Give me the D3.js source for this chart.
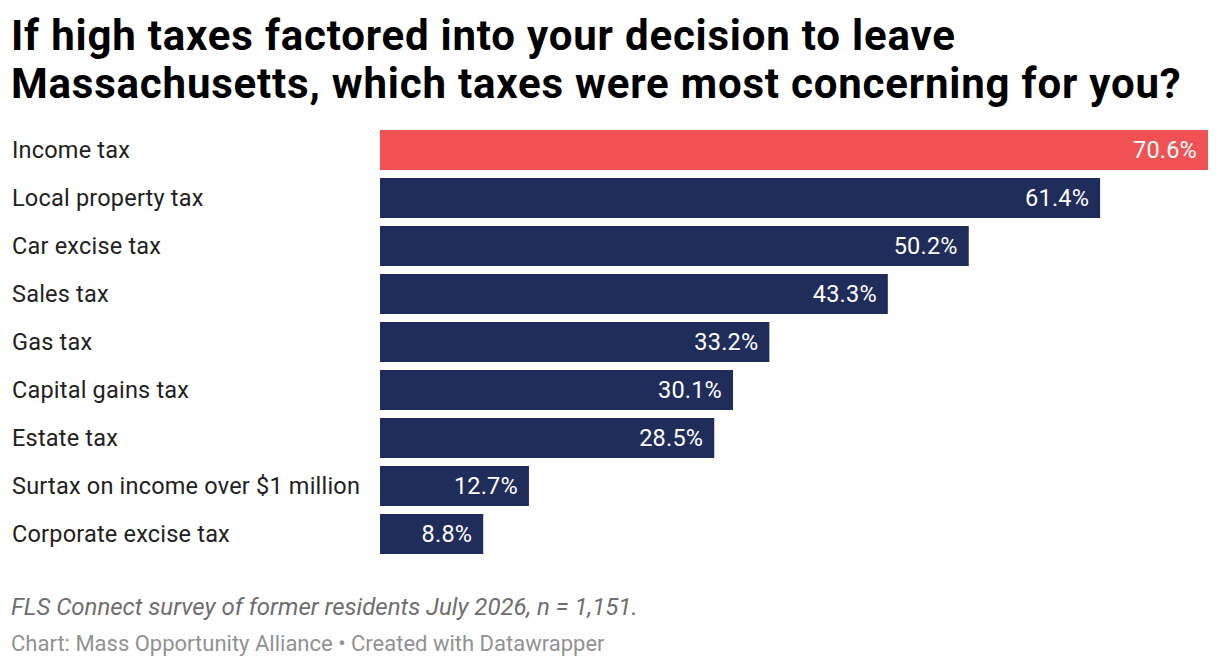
<!DOCTYPE html>
<html>
<head>
<meta charset="utf-8">
<script src="https://cdn.jsdelivr.net/npm/d3@7"></script>
<style>
  body { margin: 0; background: #fff; }
  svg text { font-family: Roboto, "Noto Sans", sans-serif; }
</style>
</head>
<body>
<div class="chart"></div>
<script>

const categories = [
    "Income tax",
    "Local property tax",
    "Car excise tax",
    "Sales tax",
    "Gas tax",
    "Capital gains tax",
    "Estate tax",
    "Surtax on income over $1 million",
    "Corporate excise tax"
];
const values = [70.6, 61.4, 50.2, 43.3, 33.2, 30.1, 28.5, 12.7, 8.8];
const titleLines = [
    "If high taxes factored into your decision to leave",
    "Massachusetts, which taxes were most concerning for you?"
];
const note = "FLS Connect survey of former residents July 2026, n = 1,151.";
const credit = "Chart: Mass Opportunity Alliance \u2022 Created with Datawrapper";

const width = 1220;
const height = 668;
const barLeft = 380;
const barRight = 1208;

const svg = d3.select(".chart")
    .append("svg")
    .attr("width", width)
    .attr("height", height);

// title
svg.append("g")
    .selectAll("text")
    .data(titleLines)
    .enter()
    .append("text")
        .attr("x", 11)
        .attr("y", (d, i) => 50 + i * 48)
        .attr("font-size", 42)
        .attr("letter-spacing", 0.8)
        .attr("font-weight", 700)
        .attr("fill", "#000")
        .text(d => d);

const x = d3.scaleLinear()
    .domain([0, d3.max(values)])
    .range([barLeft, barRight]);

// 40px bars on a 48px step
const y = d3.scaleBand()
    .domain(categories)
    .range([130, 130 + 48 * categories.length - 8])
    .paddingInner(8 / 48)
    .paddingOuter(0);

const rows = svg.append("g")
    .selectAll("g")
    .data(categories)
    .enter()
    .append("g");

rows.append("text")
    .attr("x", 12)
    .attr("y", d => y(d) + y.bandwidth() / 2)
    .attr("dy", "0.36em")
    .attr("font-size", 23.5)
    .attr("letter-spacing", 0.2)
    .attr("fill", "#222")
    .text(d => d);

rows.append("rect")
    .attr("x", x(0))
    .attr("y", d => y(d))
    .attr("width", (d, i) => x(values[i]) - x(0))
    .attr("height", y.bandwidth())
    .attr("fill", (d, i) => i === 0 ? "#f05254" : "#1f2d5b");

rows.append("text")
    .attr("x", (d, i) => x(values[i]) - 11)
    .attr("y", d => y(d) + y.bandwidth() / 2)
    .attr("dy", "0.36em")
    .attr("text-anchor", "end")
    .attr("font-size", 23.5)
    .attr("letter-spacing", 0.2)
    .attr("fill", "#fff")
    .text((d, i) => values[i].toFixed(1) + "%");

// footer
svg.append("text")
    .attr("x", 11)
    .attr("y", 615)
    .attr("font-size", 24)
    .attr("font-style", "italic")
    .attr("fill", "#6e6e6e")
    .text(note);

svg.append("text")
    .attr("x", 11)
    .attr("y", 651)
    .attr("font-size", 22)
    .attr("fill", "#929292")
    .text(credit);

</script>
</body>
</html>
